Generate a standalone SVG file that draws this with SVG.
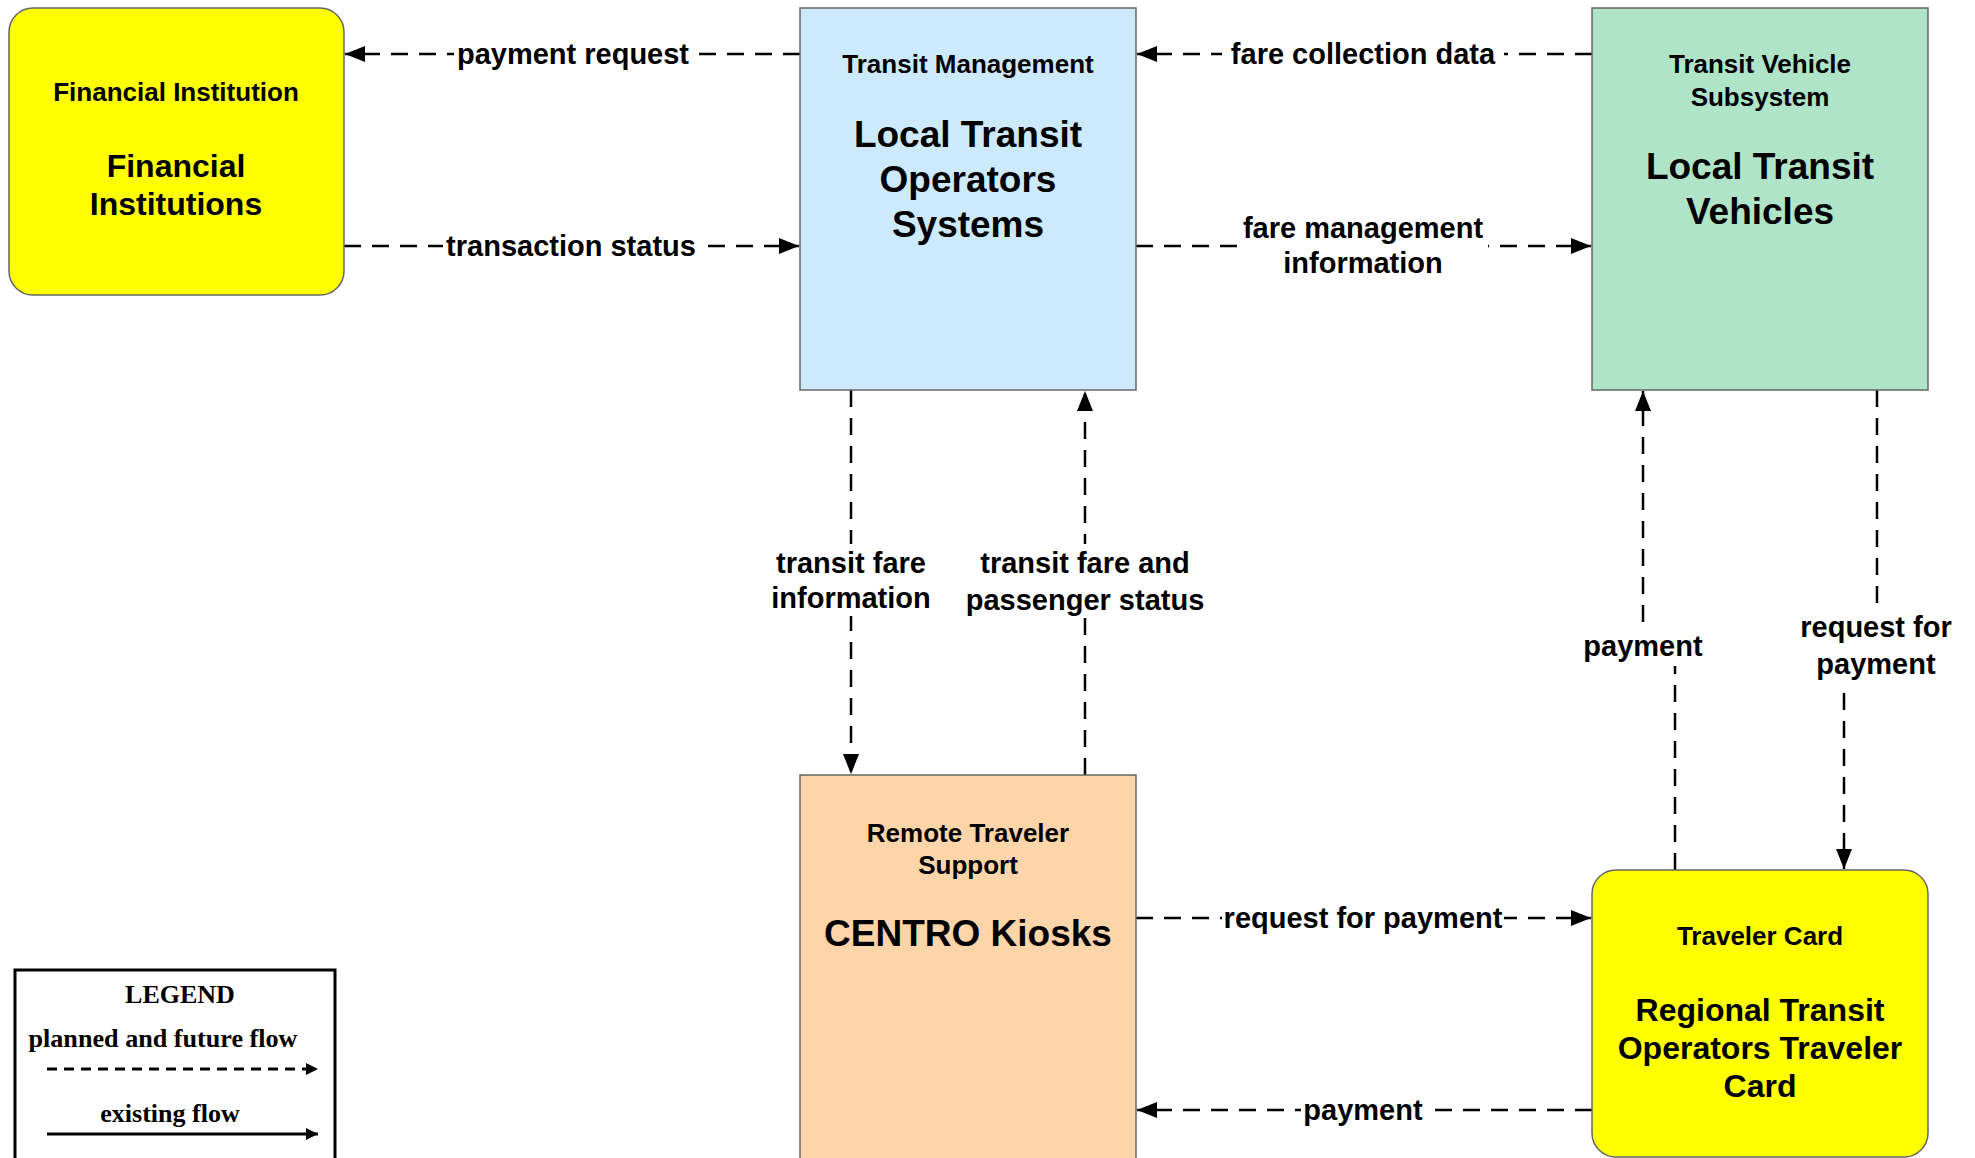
<svg xmlns="http://www.w3.org/2000/svg" width="1975" height="1158" viewBox="0 0 1975 1158">
<defs>
<style>
.t{font-family:"Liberation Sans",Arial,sans-serif;font-weight:bold;fill:#000;text-anchor:middle}
.sub{font-size:26px}
.big{font-size:37px}
.big2{font-size:32px}
.lbl{font-size:29px}
.leg{font-family:"Liberation Serif","Times New Roman",serif;font-weight:bold;font-size:26px;text-anchor:middle}
.box{stroke:#666;stroke-width:1.5}
.flow{fill:none;stroke:#000;stroke-width:2.5;stroke-dasharray:17 11}
.bg{fill:#fff}
</style>
<marker id="ah" viewBox="0 0 20 16" refX="20" refY="8" markerWidth="20" markerHeight="16" markerUnits="userSpaceOnUse" orient="auto">
<path d="M0,0 L20,8 L0,16 z" fill="#000"/>
</marker>
<marker id="ahs" viewBox="0 0 12 12" refX="12" refY="6" markerWidth="12" markerHeight="12" markerUnits="userSpaceOnUse" orient="auto">
<path d="M0,0 L12,6 L0,12 z" fill="#000"/>
</marker>
</defs>
<rect width="1975" height="1158" fill="#fff"/>

<g id="connectors">
<path class="flow" d="M800,54 H345" marker-end="url(#ah)"/>
<path class="flow" d="M344,246 H799" marker-end="url(#ah)"/>
<path class="flow" d="M1592,54 H1137" marker-end="url(#ah)"/>
<path class="flow" d="M1136,246 H1591" marker-end="url(#ah)"/>
<path class="flow" d="M851,390 V774" marker-end="url(#ah)"/>
<path class="flow" d="M1085,775 V391" marker-end="url(#ah)"/>
<path class="flow" d="M1675,870 V646 H1643 V391" marker-end="url(#ah)"/>
<path class="flow" d="M1877,390 V645 H1844 V869" marker-end="url(#ah)"/>
<path class="flow" d="M1136,918 H1591" marker-end="url(#ah)"/>
<path class="flow" d="M1592,1110 H1137" marker-end="url(#ah)"/>

<rect class="bg" x="454" y="38" width="238" height="32"/>
<text class="t lbl" x="573" y="64">payment request</text>
<rect class="bg" x="443" y="230" width="256" height="32"/>
<text class="t lbl" x="571" y="256">transaction status</text>
<rect class="bg" x="1222" y="38" width="282" height="32"/>
<text class="t lbl" x="1363" y="64">fare collection data</text>
<rect class="bg" x="1238" y="210" width="250" height="70"/>
<text class="t lbl" x="1363" y="238">fare management</text>
<text class="t lbl" x="1363" y="273">information</text>
<rect class="bg" x="768" y="544" width="166" height="72"/>
<text class="t lbl" x="851" y="573">transit fare</text>
<text class="t lbl" x="851" y="608">information</text>
<rect class="bg" x="960" y="544" width="250" height="72"/>
<text class="t lbl" x="1085" y="573">transit fare and</text>
<text class="t lbl" x="1085" y="610">passenger status</text>
<rect class="bg" x="1581" y="628" width="124" height="38"/>
<text class="t lbl" x="1643" y="656">payment</text>
<rect class="bg" x="1800" y="606" width="154" height="78"/>
<text class="t lbl" x="1876" y="637">request for</text>
<text class="t lbl" x="1876" y="674">payment</text>
<rect class="bg" x="1222" y="902" width="282" height="32"/>
<text class="t lbl" x="1363" y="928">request for payment</text>
<rect class="bg" x="1301" y="1094" width="124" height="32"/>
<text class="t lbl" x="1363" y="1120">payment</text>
</g>

<g id="financial-institutions">
<rect class="box" x="9" y="8" width="335" height="287" rx="24" fill="#ffff00"/>
<text class="t sub" x="176" y="101">Financial Institution</text>
<text class="t big2" x="176" y="177">Financial</text>
<text class="t big2" x="176" y="215">Institutions</text>
</g>

<g id="local-transit-operators-systems">
<rect class="box" x="800" y="8" width="336" height="382" fill="#cceafb"/>
<text class="t sub" x="968" y="73">Transit Management</text>
<text class="t big" x="968" y="147">Local Transit</text>
<text class="t big" x="968" y="192">Operators</text>
<text class="t big" x="968" y="237">Systems</text>
</g>

<g id="local-transit-vehicles">
<rect class="box" x="1592" y="8" width="336" height="382" fill="#afe4c9"/>
<text class="t sub" x="1760" y="73">Transit Vehicle</text>
<text class="t sub" x="1760" y="106">Subsystem</text>
<text class="t big" x="1760" y="179">Local Transit</text>
<text class="t big" x="1760" y="224">Vehicles</text>
</g>

<g id="centro-kiosks">
<rect class="box" x="800" y="775" width="336" height="400" fill="#fed5a8"/>
<text class="t sub" x="968" y="842">Remote Traveler</text>
<text class="t sub" x="968" y="874">Support</text>
<text class="t big" x="968" y="946">CENTRO Kiosks</text>
</g>

<g id="regional-transit-operators-traveler-card">
<rect class="box" x="1592" y="870" width="336" height="287" rx="24" fill="#ffff00"/>
<text class="t sub" x="1760" y="945">Traveler Card</text>
<text class="t big2" x="1760" y="1021">Regional Transit</text>
<text class="t big2" x="1760" y="1059">Operators Traveler</text>
<text class="t big2" x="1760" y="1097">Card</text>
</g>

<g id="legend">
<rect x="15" y="970" width="320" height="200" fill="#fff" stroke="#000" stroke-width="3"/>
<text class="leg" x="180" y="1003">LEGEND</text>
<text class="leg" x="163" y="1047" textLength="269" lengthAdjust="spacingAndGlyphs">planned and future flow</text>
<path d="M47,1069 H318" fill="none" stroke="#000" stroke-width="3" stroke-dasharray="10 7" marker-end="url(#ahs)"/>
<text class="leg" x="170" y="1122">existing flow</text>
<path d="M47,1134 H318" fill="none" stroke="#000" stroke-width="3" marker-end="url(#ahs)"/>
</g>
</svg>
